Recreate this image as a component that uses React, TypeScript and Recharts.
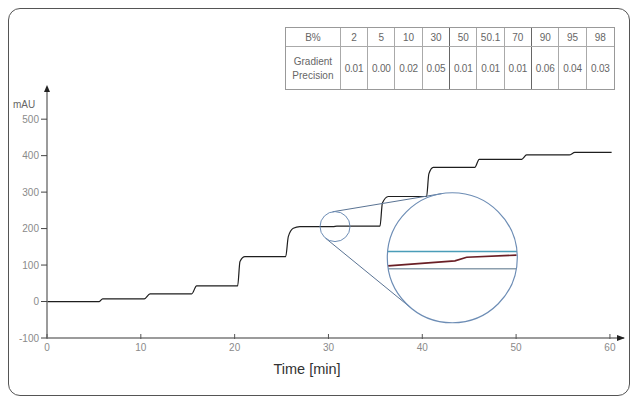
import React from 'react'
import { ComposedChart, Line, XAxis, YAxis, ReferenceDot, ReferenceLine } from 'recharts'

// main trace (min / mAU)
const time = [0, 5.57, 5.93, 10.37, 10.98, 15.42, 15.95, 20.32, 20.57, 21.1, 25.44, 25.72, 26.25, 26.96, 30.5, 30.9, 35.49, 35.75, 36.38, 40.46, 40.7, 41.17, 45.6, 46.07, 50.59, 51.12, 55.66, 56.27, 60.18]
const mau = [0, 0, 7.5, 7.5, 21, 21, 43, 43, 110, 123, 123, 178, 201, 205.5, 205.5, 206.5, 206.5, 270, 288, 288, 350, 368, 368, 390, 390, 402, 402, 409, 409]

// magnified trace inside the big circle
const zoomTime = [36.35, 43.48, 44.73, 50.05]
const zoomMau = [97.8, 111.5, 121.6, 127.3]
const zoomBandTop = 137
const zoomBandBottom = 89.6

const xTicks = [0, 10, 20, 30, 40, 50, 60]
const yTicks = [-100, 0, 100, 200, 300, 400, 500]

const bPercent = ['2', '5', '10', '30', '50', '50.1', '70', '90', '95', '98']
const precision = ['0.01', '0.00', '0.02', '0.05', '0.01', '0.01', '0.01', '0.06', '0.04', '0.03']

// magnifier: small circle on the trace, big circle with the zoomed view
const smallCircle = { x: 30.7, y: 205.5, r: 15 }
const bigCircle = { x: 43.2, y: 120, r: 65 }

const X_DOMAIN: [number, number] = [0, 61.5]
const Y_DOMAIN: [number, number] = [-100, 580]
const PLOT_W = 577
const PLOT_H = 248
const pxX = PLOT_W / (X_DOMAIN[1] - X_DOMAIN[0])
const pxY = PLOT_H / (Y_DOMAIN[1] - Y_DOMAIN[0])

const FONT = '"Liberation Sans", Arial, sans-serif'

const data = time.map((t, i) => ({ t, mau: mau[i] }))
const zoomData = zoomTime.map((t, i) => ({ t, zoom: zoomMau[i] }))

// outer tangents between the two circles, worked out in pixel space
function tangentSegments() {
  const ax = smallCircle.x * pxX, ay = -smallCircle.y * pxY
  const bx = bigCircle.x * pxX, by = -bigCircle.y * pxY
  const d = Math.hypot(bx - ax, by - ay)
  const th = Math.atan2(by - ay, bx - ax)
  const a = Math.acos((smallCircle.r - bigCircle.r) / d)
  return [th + a, th - a].map(ang => {
    const nx = Math.cos(ang), ny = Math.sin(ang)
    return [
      { x: (ax + smallCircle.r * nx) / pxX, y: -(ay + smallCircle.r * ny) / pxY },
      { x: (bx + bigCircle.r * nx) / pxX, y: -(by + bigCircle.r * ny) / pxY },
    ]
  })
}

function chord(y: number) {
  const dy = (y - bigCircle.y) * pxY
  const half = Math.sqrt(bigCircle.r * bigCircle.r - dy * dy) / pxX
  return [{ x: bigCircle.x - half, y }, { x: bigCircle.x + half, y }]
}

const XTick = (props: any) => {
  const { x, y, payload } = props
  return (
    <g>
      <line x1={x} x2={x} y1={y - 4} y2={y + 1} stroke="#555" strokeWidth={1} />
      <text x={x} y={y + 13} textAnchor="middle" fontSize={10} fill="#8a8a8a" fontFamily={FONT}>
        {payload.value}
      </text>
    </g>
  )
}

const UpArrow = (props: any) => (
  <path d={`M${props.cx},${props.cy - 5} l-3,7 l6,0 z`} fill="#222" />
)
const RightArrow = (props: any) => (
  <path d={`M${props.cx + 1},${props.cy} l-8,-3 l0,6 z`} fill="#222" />
)

const cell: React.CSSProperties = {
  borderRight: '1px solid #aaa',
  display: 'flex',
  alignItems: 'center',
  justifyContent: 'center',
  boxSizing: 'border-box',
}

function GradientTable() {
  const heavy = [3, 6]
  return (
    <div style={{
      position: 'absolute', left: 276, top: 18, width: 330, border: '1px solid #999',
      fontFamily: FONT, fontSize: 10, color: '#666', background: '#fff', boxSizing: 'border-box',
    }}>
      <div style={{ display: 'flex', height: 18, borderBottom: '1px solid #aaa' }}>
        <div style={{ ...cell, width: 55 }}>B%</div>
        {bPercent.map((b, i) => (
          <div key={b} style={{ ...cell, width: 27.4, borderRight: i === 9 ? 'none' : heavy.includes(i) ? '1.5px solid #666' : cell.borderRight }}>{b}</div>
        ))}
      </div>
      <div style={{ display: 'flex', height: 42 }}>
        <div style={{ ...cell, width: 55, flexDirection: 'column', lineHeight: '14px', paddingTop: 2 }}>
          <span>Gradient</span>
          <span>Precision</span>
        </div>
        {precision.map((p, i) => (
          <div key={i} style={{ ...cell, width: 27.4, letterSpacing: -0.2, borderRight: i === 9 ? 'none' : heavy.includes(i) ? '1.5px solid #666' : cell.borderRight }}>{p}</div>
        ))}
      </div>
    </div>
  )
}

export default function App() {
  const tangents = tangentSegments()
  return (
    <div style={{
      position: 'relative', width: 620, height: 386, border: '1px solid #555',
      borderRadius: 12, background: '#fff', fontFamily: FONT,
    }}>
      <ComposedChart
        width={620}
        height={386}
        data={data}
        margin={{ top: 81, right: 5, bottom: 37, left: 8 }}
        style={{ position: 'absolute', left: 0, top: 0 }}
      >
        <XAxis
          dataKey="t"
          type="number"
          domain={X_DOMAIN}
          ticks={xTicks}
          allowDataOverflow
          height={20}
          tickSize={0}
          tickMargin={0}
          tick={<XTick />}
          axisLine={{ stroke: '#7a7a7a', strokeWidth: 1.5 }}
          tickLine={false}
        />
        <YAxis
          type="number"
          domain={Y_DOMAIN}
          ticks={yTicks}
          allowDataOverflow
          width={30}
          tickSize={6}
          tickMargin={2}
          tick={{ fontSize: 10, fill: '#8a8a8a', fontFamily: FONT }}
          tickLine={{ stroke: '#444' }}
          axisLine={{ stroke: '#7a7a7a', strokeWidth: 1.5 }}
        />
        <Line
          dataKey="mau"
          type="monotone"
          stroke="#1e1e1e"
          strokeWidth={1.2}
          dot={false}
          isAnimationActive={false}
        />
        {tangents.map((seg, i) => (
          <ReferenceLine key={i} segment={seg} stroke="#5a7393" strokeWidth={1} ifOverflow="visible" />
        ))}
        <ReferenceDot x={smallCircle.x} y={smallCircle.y} r={smallCircle.r} fill="none" stroke="#6d8db5" strokeWidth={1} ifOverflow="visible" />
        <ReferenceDot x={bigCircle.x} y={bigCircle.y} r={bigCircle.r} fill="none" stroke="#6d8db5" strokeWidth={1.2} ifOverflow="visible" />
        <ReferenceLine segment={chord(zoomBandTop)} stroke="#4a9db8" strokeWidth={1.5} ifOverflow="visible" />
        <ReferenceLine segment={chord(zoomBandBottom)} stroke="#8c9fae" strokeWidth={1.5} ifOverflow="visible" />
        <Line
          data={zoomData}
          dataKey="zoom"
          type="linear"
          stroke="#6a1f26"
          strokeWidth={1.6}
          dot={false}
          isAnimationActive={false}
        />
        <ReferenceDot x={0} y={Y_DOMAIN[1]} r={3} shape={<UpArrow />} ifOverflow="visible" />
        <ReferenceDot x={X_DOMAIN[1]} y={Y_DOMAIN[0]} r={3} shape={<RightArrow />} ifOverflow="visible" />
      </ComposedChart>
      <div style={{ position: 'absolute', left: 4, top: 90, fontSize: 10, color: '#666' }}>mAU</div>
      <div style={{ position: 'absolute', left: 230, top: 352, width: 136, textAlign: 'center', fontSize: 14.5, color: '#333' }}>
        Time [min]
      </div>
      <GradientTable />
    </div>
  )
}
